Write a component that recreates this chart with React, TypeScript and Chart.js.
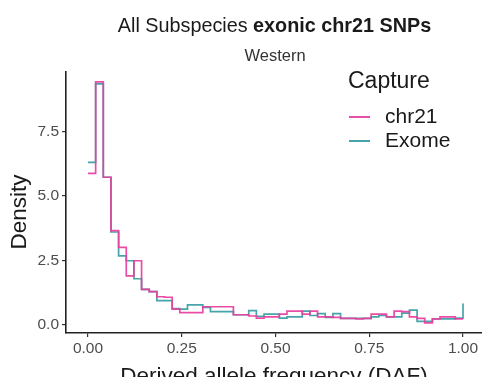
import React, { useEffect, useRef } from "react";
import { Chart, registerables } from "chart.js";

Chart.register(...registerables);

const TITLE_PLAIN = "All Subspecies ";
const TITLE_BOLD = "exonic chr21 SNPs";
const SUBTITLE = "Western";
const X_TITLE = "Derived allele frequency (DAF)";
const Y_TITLE = "Density";
const LEGEND_TITLE = "Capture";
const SERIES_NAMES = ["chr21", "Exome"];

const X_TICKS = [0, 0.25, 0.5, 0.75, 1];
const X_TICK_LABELS = ["0.00", "0.25", "0.50", "0.75", "1.00"];
const Y_TICKS = [0, 2.5, 5, 7.5];
const Y_TICK_LABELS = ["0.0", "2.5", "5.0", "7.5"];

// 50 bins over [0, 1]; bin centers k/49
const BIN_COUNT = 50;
const BIN_CENTERS = Array.from({ length: BIN_COUNT }, (_, i) => i / (BIN_COUNT - 1));

const CHR21 = [
  5.88, 9.44, 5.73, 3.65, 3.0, 1.89, 2.48, 1.37, 1.28, 1.08,
  1.06, 0.6, 0.46, 0.46, 0.46, 0.69, 0.69, 0.69, 0.69, 0.38,
  0.38, 0.33, 0.25, 0.3, 0.3, 0.4, 0.52, 0.52, 0.4, 0.52,
  0.3, 0.3, 0.28, 0.24, 0.24, 0.22, 0.24, 0.4, 0.4, 0.3,
  0.52, 0.5, 0.3, 0.24, 0.06, 0.22, 0.3, 0.3, 0.22, 0.22,
];

const EXOME = [
  6.31, 9.36, 5.73, 3.6, 2.67, 2.48, 1.78, 1.37, 1.28, 0.93,
  0.93, 0.62, 0.6, 0.76, 0.76, 0.67, 0.5, 0.5, 0.5, 0.38,
  0.38, 0.54, 0.32, 0.4, 0.4, 0.25, 0.3, 0.3, 0.52, 0.35,
  0.42, 0.28, 0.42, 0.24, 0.24, 0.24, 0.24, 0.3, 0.35, 0.3,
  0.3, 0.44, 0.56, 0.12, 0.12, 0.22, 0.22, 0.22, 0.25, 0.82,
];

const PINK = "rgba(232, 62, 158, 0.92)";
const TEAL = "rgba(38, 148, 155, 0.85)";
const FONT = "'Liberation Sans', Arial, Helvetica, sans-serif";

const textPlugin = {
  id: "customText",
  afterDraw(chart: any) {
    const ctx = chart.ctx as CanvasRenderingContext2D;
    ctx.save();
    ctx.textBaseline = "alphabetic";

    // Title with mixed weight
    ctx.fillStyle = "#1a1a1a";
    ctx.font = `19.8px ${FONT}`;
    const w1 = ctx.measureText(TITLE_PLAIN).width;
    ctx.font = `bold 19.8px ${FONT}`;
    const w2 = ctx.measureText(TITLE_BOLD).width;
    const x0 = 274.5 - (w1 + w2) / 2;
    ctx.textAlign = "left";
    ctx.font = `19.8px ${FONT}`;
    ctx.fillText(TITLE_PLAIN, x0, 32);
    ctx.font = `bold 19.8px ${FONT}`;
    ctx.fillText(TITLE_BOLD, x0 + w1, 32);

    // Subtitle
    ctx.textAlign = "center";
    ctx.font = `16.5px ${FONT}`;
    ctx.fillStyle = "#333333";
    ctx.fillText(SUBTITLE, 275, 61);

    // X axis title
    ctx.font = `22.5px ${FONT}`;
    ctx.fillStyle = "#1a1a1a";
    ctx.fillText(X_TITLE, 274, 383);

    // Y axis title
    ctx.save();
    ctx.translate(26, 212);
    ctx.rotate(-Math.PI / 2);
    ctx.textAlign = "center";
    ctx.fillText(Y_TITLE, 0, 0);
    ctx.restore();

    // Legend
    ctx.textAlign = "left";
    ctx.textBaseline = "middle";
    ctx.font = `23px ${FONT}`;
    ctx.fillStyle = "#1a1a1a";
    ctx.fillText(LEGEND_TITLE, 348, 82);
    const colors = [PINK, TEAL];
    const ys = [117, 141];
    ctx.font = `21px ${FONT}`;
    SERIES_NAMES.forEach((name, i) => {
      ctx.strokeStyle = colors[i];
      ctx.lineWidth = 2;
      ctx.beginPath();
      ctx.moveTo(349, ys[i]);
      ctx.lineTo(370, ys[i]);
      ctx.stroke();
      ctx.fillStyle = "#1a1a1a";
      ctx.fillText(name, 385, ys[i]);
    });

    ctx.restore();
  },
};

export default function App() {
  const ref = useRef<HTMLCanvasElement | null>(null);

  useEffect(() => {
    if (!ref.current) return;
    const chart = new Chart(ref.current, {
      type: "line",
      data: {
        datasets: [
          {
            label: SERIES_NAMES[0],
            data: BIN_CENTERS.map((x, i) => ({ x, y: CHR21[i] })),
            borderColor: PINK,
            borderWidth: 1.7,
            pointRadius: 0,
            stepped: "before",
            fill: false,
          },
          {
            label: SERIES_NAMES[1],
            data: BIN_CENTERS.map((x, i) => ({ x, y: EXOME[i] })),
            borderColor: TEAL,
            borderWidth: 1.7,
            pointRadius: 0,
            stepped: "before",
            fill: false,
          },
        ],
      },
      options: {
        animation: false,
        responsive: false,
        events: [],
        layout: { padding: { top: 72, left: 0, right: 0, bottom: 0 } },
        plugins: {
          legend: { display: false },
          title: { display: false },
          tooltip: { enabled: false },
        },
        scales: {
          x: {
            type: "linear",
            min: -22 / 375,
            max: 394 / 375,
            afterBuildTicks: (s: any) => {
              s.ticks = X_TICKS.map((v) => ({ value: v }));
            },
            afterFit: (s: any) => {
              s.height = 44;
            },
            ticks: {
              callback: (_v: any, i: number) => X_TICK_LABELS[i],
              font: { family: FONT, size: 15.5 },
              color: "#4d4d4d",
              padding: 2,
              maxRotation: 0,
              autoSkip: false,
            },
            grid: {
              display: true,
              drawOnChartArea: false,
              drawTicks: true,
              tickLength: 4,
              color: "#333333",
              lineWidth: 1.2,
            },
            border: { display: true, color: "#222222", width: 1.6 },
          },
          y: {
            type: "linear",
            min: -0.331,
            max: 9.825,
            afterBuildTicks: (s: any) => {
              s.ticks = Y_TICKS.map((v) => ({ value: v }));
            },
            afterFit: (s: any) => {
              s.width = 66;
            },
            ticks: {
              callback: (_v: any, i: number) => Y_TICK_LABELS[i],
              font: { family: FONT, size: 15.5 },
              color: "#4d4d4d",
              padding: 3,
            },
            grid: {
              display: true,
              drawOnChartArea: false,
              drawTicks: true,
              tickLength: 4,
              color: "#333333",
              lineWidth: 1.2,
            },
            border: { display: true, color: "#222222", width: 1.6 },
          },
        },
      },
      plugins: [textPlugin],
    } as any);
    return () => chart.destroy();
  }, []);

  return (
    <div style={{ position: "fixed", left: 0, top: 0, width: 482, height: 377, background: "#ffffff" }}>
      <canvas ref={ref} width={482} height={377} style={{ display: "block" }} />
    </div>
  );
}
